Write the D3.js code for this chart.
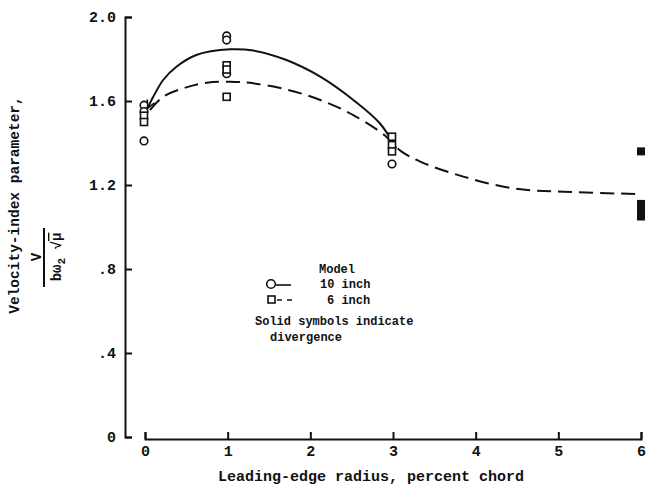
<!DOCTYPE html>
<html>
<head>
<meta charset="utf-8">
<script src="https://cdn.jsdelivr.net/npm/d3@7"></script>
<style>
  html, body { margin: 0; padding: 0; background: #fff; }
  svg { display: block; }
  text { font-family: "Liberation Mono", "DejaVu Sans Mono", monospace; font-weight: bold; fill: #111; }
</style>
</head>
<body>
<svg id="chart" width="646" height="487"></svg>
<script>
// ---- data ----
const xTicks = [0, 1, 2, 3, 4, 5, 6];
const xTickLabels = ["0", "1", "2", "3", "4", "5", "6"];
const yTicks = [0, 0.4, 0.8, 1.2, 1.6, 2.0];
const yTickLabels = ["0", ".4", ".8", "1.2", "1.6", "2.0"];

// 10-inch model (open circles)
const circleX = [0, 0, 0, 1, 1, 1, 3];
const circleV = [1.58, 1.55, 1.41, 1.91, 1.89, 1.73, 1.30];
// 6-inch model (open squares)
const squareX = [0, 0, 1, 1, 1, 3, 3, 3];
const squareV = [1.53, 1.50, 1.77, 1.75, 1.62, 1.43, 1.39, 1.36];
// 6-inch model, divergence (solid squares)
const solidX = [6, 6, 6, 6];
const solidV = [1.36, 1.11, 1.08, 1.05];

// faired curves
const curve10X = [0.03, 0.10, 0.22, 0.38, 0.62, 1.03, 1.31, 1.71, 2.12, 2.52, 2.84, 3.04];
const curve10V = [1.565, 1.62, 1.70, 1.763, 1.819, 1.846, 1.84, 1.795, 1.716, 1.605, 1.494, 1.375];
const curve6X = [0.06, 0.22, 0.50, 0.75, 1.03, 1.31, 1.71, 2.12, 2.52, 2.92, 3.0, 3.1, 3.33, 3.85, 4.45, 5.06, 5.99];
const curve6V = [1.557, 1.62, 1.665, 1.687, 1.692, 1.684, 1.655, 1.605, 1.533, 1.43, 1.395, 1.36, 1.311, 1.24, 1.184, 1.168, 1.157];

// ---- drawing ----
const svg = d3.select("#chart");
const ink = "#111";
const x = d3.scaleLinear().domain([0, 6]).range([145, 641]);
const y = d3.scaleLinear().domain([0, 2]).range([437, 17]);

// y axis
const yAxis = d3.axisLeft(y)
  .tickValues(yTicks)
  .tickFormat((d, i) => yTickLabels[i])
  .tickSizeInner(-7)
  .tickSizeOuter(-7)
  .tickPadding(9);
const gy = svg.append("g").attr("transform", "translate(125,0)").call(yAxis);
gy.selectAll("path, line").attr("stroke", ink).attr("stroke-width", 2);
gy.selectAll("text").style("font-size", "15px").attr("fill", ink)
  .style("font-family", "'Liberation Mono', monospace").style("font-weight", "bold");

// x axis
const xAxis = d3.axisBottom(x)
  .tickValues(xTicks)
  .tickFormat((d, i) => xTickLabels[i])
  .tickSizeInner(-7)
  .tickSizeOuter(-7)
  .tickPadding(6);
const gx = svg.append("g").attr("transform", "translate(0,439)").call(xAxis);
gx.selectAll("path, line").attr("stroke", ink).attr("stroke-width", 2);
gx.selectAll("text").style("font-size", "15px").attr("fill", ink)
  .style("font-family", "'Liberation Mono', monospace").style("font-weight", "bold");

// axis titles
svg.append("text")
  .attr("x", 371).attr("y", 481)
  .attr("text-anchor", "middle")
  .style("font-size", "15px")
  .text("Leading-edge radius, percent chord");

svg.append("text")
  .attr("transform", "translate(15,205) rotate(-90)")
  .attr("text-anchor", "middle")
  .attr("dominant-baseline", "central")
  .style("font-size", "14.5px")
  .text("Velocity-index parameter,");

// fraction V / (b ω2 √μ)
svg.append("text")
  .attr("transform", "translate(37,257) rotate(-90)")
  .attr("text-anchor", "middle")
  .attr("dominant-baseline", "central")
  .style("font-size", "14px")
  .text("V");
svg.append("line")
  .attr("x1", 44).attr("x2", 44).attr("y1", 228).attr("y2", 287)
  .attr("stroke", ink).attr("stroke-width", 2);
const den = svg.append("text")
  .attr("transform", "translate(57,257) rotate(-90)")
  .attr("text-anchor", "middle")
  .attr("dominant-baseline", "central")
  .style("font-size", "14px");
den.append("tspan").text("bω");
den.append("tspan").attr("dy", 5).style("font-size", "11px").text("2");
den.append("tspan").attr("dy", -5).text(" √");
den.append("tspan").style("text-decoration", "overline").text("μ");

// curves
const line = d3.line().x(d => x(d[0])).y(d => y(d[1])).curve(d3.curveCatmullRom.alpha(0.5));

svg.append("defs").append("marker")
  .attr("id", "arrow")
  .attr("viewBox", "0 0 10 10")
  .attr("refX", 9).attr("refY", 5)
  .attr("markerWidth", 5).attr("markerHeight", 5)
  .attr("orient", "auto-start-reverse")
  .append("path")
  .attr("d", "M1,1 L9,5 L1,9")
  .attr("fill", "none").attr("stroke", ink).attr("stroke-width", 1.6);

svg.append("path")
  .datum(curve10X.map((d, i) => [d, curve10V[i]]))
  .attr("d", line)
  .attr("fill", "none").attr("stroke", ink).attr("stroke-width", 2)
  .attr("marker-start", "url(#arrow)");

svg.append("path")
  .datum(curve6X.map((d, i) => [d, curve6V[i]]))
  .attr("d", line)
  .attr("fill", "none").attr("stroke", ink).attr("stroke-width", 2)
  .attr("stroke-dasharray", "14,7");

// symbols
svg.append("g").selectAll("circle")
  .data(circleX.map((d, i) => [d, circleV[i]]))
  .join("circle")
  .attr("cx", d => x(d[0]) - 1).attr("cy", d => y(d[1]))
  .attr("r", 3.8)
  .attr("fill", "#fff").attr("stroke", ink).attr("stroke-width", 1.6);

const sq = 7;
svg.append("g").selectAll("rect")
  .data(squareX.map((d, i) => [d, squareV[i]]))
  .join("rect")
  .attr("x", d => x(d[0]) - 1 - sq / 2).attr("y", d => y(d[1]) - sq / 2)
  .attr("width", sq).attr("height", sq)
  .attr("fill", "#fff").attr("stroke", ink).attr("stroke-width", 1.6);

const sq2 = 8;
svg.append("g").selectAll("rect")
  .data(solidX.map((d, i) => [d, solidV[i]]))
  .join("rect")
  .attr("x", d => x(d[0]) - sq2 / 2).attr("y", d => y(d[1]) - sq2 / 2)
  .attr("width", sq2).attr("height", sq2)
  .attr("fill", ink).attr("stroke", "none");

// legend
const lg = svg.append("g");
lg.append("text").attr("x", 319).attr("y", 273).style("font-size", "12px").text("Model");
lg.append("circle").attr("cx", 271).attr("cy", 284).attr("r", 4.3)
  .attr("fill", "#fff").attr("stroke", ink).attr("stroke-width", 1.6);
lg.append("line").attr("x1", 276).attr("x2", 291).attr("y1", 285).attr("y2", 285)
  .attr("stroke", ink).attr("stroke-width", 1.6);
lg.append("text").attr("x", 320).attr("y", 288).style("font-size", "12px").text("10 inch");
lg.append("rect").attr("x", 268).attr("y", 296).attr("width", 7).attr("height", 7)
  .attr("fill", "#fff").attr("stroke", ink).attr("stroke-width", 1.6);
lg.append("line").attr("x1", 277).attr("x2", 292).attr("y1", 300).attr("y2", 300)
  .attr("stroke", ink).attr("stroke-width", 1.6).attr("stroke-dasharray", "5,5");
lg.append("text").attr("x", 327).attr("y", 304).style("font-size", "12px").text("6 inch");
lg.append("text").attr("x", 255).attr("y", 325).style("font-size", "12px").text("Solid symbols indicate");
lg.append("text").attr("x", 270).attr("y", 341).style("font-size", "12px").text("divergence");
</script>
</body>
</html>
